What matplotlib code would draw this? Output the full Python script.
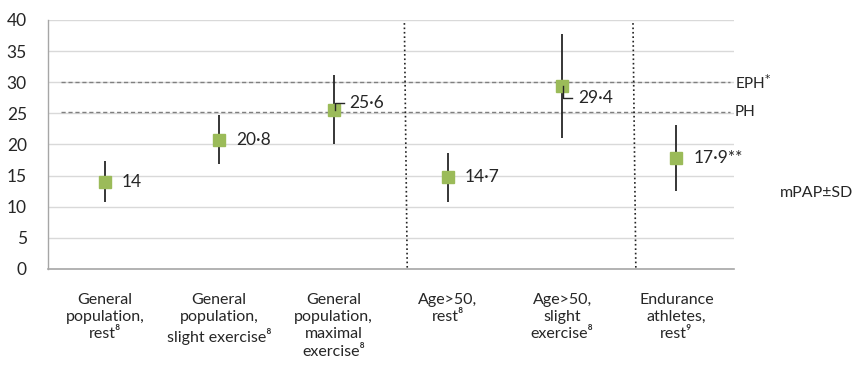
import matplotlib
matplotlib.use('Agg')
import matplotlib.pyplot as plt

# ---------------- DATA ----------------
categories = [
    "General\npopulation,\nrest⁸",
    "General\npopulation,\nslight exercise⁸",
    "General\npopulation,\nmaximal\nexercise⁸",
    "Age>50,\nrest⁸",
    "Age>50,\nslight\nexercise⁸",
    "Endurance\nathletes,\nrest⁹",
]
mpap = [14.0, 20.8, 25.6, 14.7, 29.4, 17.9]
sd = [3.3, 4.0, 5.6, 4.0, 8.4, 5.3]
point_labels = ["14", "20·8", "25·6", "14·7", "29·4", "17·9**"]
eph_level = 30
ph_level = 25.2
yticks = [0, 5, 10, 15, 20, 25, 30, 35, 40]

plt.rcParams['font.family'] = ['Lato', 'DejaVu Sans']

fig = plt.figure(figsize=(8.53, 3.70), dpi=100)
ax = fig.add_axes([0.056, 0.273, 0.804, 0.673])

x = list(range(len(mpap)))

# grid
for t in yticks[1:]:
    ax.axhline(t, color='#d9d9d9', lw=1, zorder=0)

# reference lines
ax.plot([-0.38, 5.47], [eph_level, eph_level], color='#7f7f7f', lw=1,
        linestyle=(0, (3, 2)), zorder=1)
ax.plot([-0.38, 5.47], [ph_level, ph_level], color='#7f7f7f', lw=1,
        linestyle=(0, (3, 2)), zorder=1)
ax.text(5.51, eph_level, "EPH$^{*}$", va='center', ha='left', fontsize=11, color='#262626')
ax.text(5.51, ph_level, "PH", va='center', ha='left', fontsize=11, color='#262626')

# group separators
ax.plot([2.62, 2.645], [39.5, 0], color='#222222', lw=1.2, linestyle=':', zorder=1)
ax.plot([4.62, 4.645], [39.5, 0], color='#222222', lw=1.2, linestyle=':', zorder=1)

# points + SD
ax.errorbar(x, mpap, yerr=sd, fmt='s', color='#9bbb59', ecolor='#262626',
            elinewidth=1.3, capsize=0, markersize=9, zorder=3)

# value labels
offsets = {2: (0.14, 26.7), 4: (0.14, 27.5)}
for i, lab in enumerate(point_labels):
    if i in offsets:
        tx, ty = offsets[i]
        ax.plot([x[i] + 0.01, x[i] + 0.01, x[i] + 0.09],
                [mpap[i], ty, ty], color='#262626', lw=1, zorder=4)
        ax.text(x[i] + tx, ty, lab, va='center', ha='left', fontsize=12.5, color='#262626')
    else:
        ax.text(x[i] + 0.15, mpap[i], lab, va='center', ha='left', fontsize=12.5, color='#262626')

ax.set_xlim(-0.5, 5.5)
ax.set_ylim(0, 40)
ax.set_yticks(yticks)
ax.set_xticks(x)
ax.set_xticklabels(categories, fontsize=11.5, color='#262626', linespacing=1.3)
ax.tick_params(axis='y', length=0, pad=15, labelsize=12.5, labelcolor='#262626')
ax.tick_params(axis='x', length=0, pad=17)

for s in ['top', 'right']:
    ax.spines[s].set_visible(False)
ax.spines['left'].set_color('#a6a6a6')
ax.spines['bottom'].set_color('#a6a6a6')
ax.spines['left'].set_linewidth(1)
ax.spines['bottom'].set_linewidth(1.2)

fig.text(0.914, 0.478, "mPAP±SD", ha='left', va='center', fontsize=11.5, color='#262626')

fig.savefig("out.png", dpi=100)
